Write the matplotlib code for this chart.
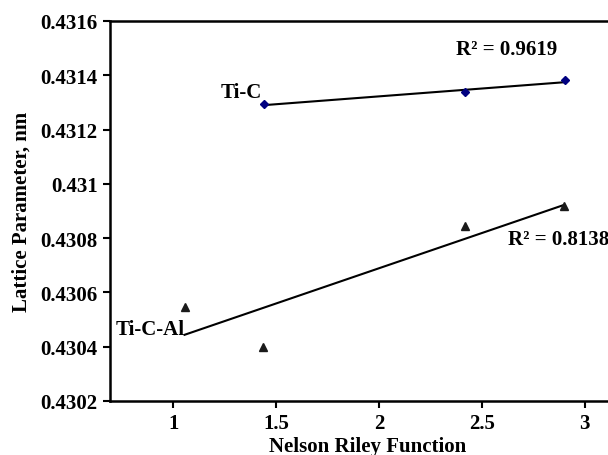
import numpy as np
import matplotlib
matplotlib.use('Agg')
import matplotlib.pyplot as plt

# Nelson-Riley function values and lattice parameters (nm)
ti_c_x = [1.439, 2.418, 2.904]
ti_c_y = [0.431293, 0.431337, 0.431381]
ti_c_al_x = [1.055, 1.435, 2.42, 2.9]
ti_c_al_y = [0.430546, 0.430398, 0.430846, 0.430917]

r2_ti_c = 'R\u00b2 = 0.9619'
r2_ti_c_al = 'R\u00b2 = 0.8138'

plt.rcParams['font.family'] = ['Liberation Serif', 'DejaVu Serif']
plt.rcParams['font.weight'] = 'bold'
plt.rcParams['font.size'] = 15

fig = plt.figure(figsize=(6.08, 4.56), dpi=100)
ax = fig.add_axes([110 / 608, 54 / 456, 516 / 608, 380 / 456])

# linear trend lines
for xs, ys in [(ti_c_x, ti_c_y), (ti_c_al_x, ti_c_al_y)]:
    k, b = np.polyfit(xs, ys, 1)
    xx = np.array([min(xs), max(xs)])
    ax.plot(xx, k * xx + b, color='black', lw=1.5, zorder=2)

ax.plot(ti_c_x, ti_c_y, linestyle='none', marker='D', ms=4.5, color='#000080', zorder=3)
ax.plot(ti_c_al_x, ti_c_al_y, linestyle='none', marker='^', ms=5.5, color='#1a1a1a', zorder=3)

ax.text(1.433, 0.43134, 'Ti-C', ha='right', va='center', fontweight='bold')
ax.text(0.718, 0.430466, 'Ti-C-Al', ha='left', va='center', fontweight='bold')
ax.text(2.372, 0.431497, r2_ti_c, ha='left', va='center', fontweight='bold')
ax.text(2.625, 0.430797, r2_ti_c_al, ha='left', va='center', fontweight='bold')

ax.set_xlim(0.693, 3.2)
ax.set_ylim(0.4302, 0.4316)
ax.set_xticks([1, 1.5, 2, 2.5, 3])
ax.set_xticklabels(['1', '1.5', '2', '2.5', '3'])
ax.set_yticks([0.4302, 0.4304, 0.4306, 0.4308, 0.431, 0.4312, 0.4314, 0.4316])
ax.set_yticklabels(['0.4302', '0.4304', '0.4306', '0.4308', '0.431', '0.4312', '0.4314', '0.4316'])
ax.tick_params(direction='out', length=5, width=1.5, pad=4)
for s in ax.spines.values():
    s.set_linewidth(1.8)

ax.set_xlabel('Nelson Riley Function', fontweight='bold', labelpad=2)
ax.set_ylabel('Lattice Parameter, nm', fontweight='bold', labelpad=6)

fig.savefig('out.png', dpi=100)
